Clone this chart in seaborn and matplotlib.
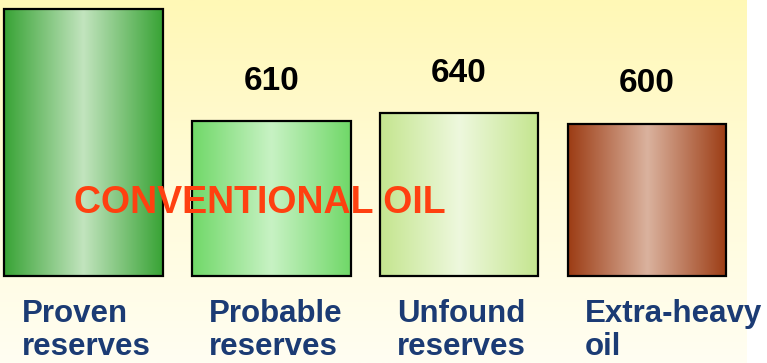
import numpy as np
import matplotlib
matplotlib.use('Agg')
import matplotlib.pyplot as plt
import matplotlib.transforms as mtransforms
from matplotlib.colors import LinearSegmentedColormap
import seaborn as sns

categories = ['Proven\nreserves', 'Probable\nreserves', 'Unfound\nreserves', 'Extra-heavy\noil']
values = [1050, 610, 640, 600]
show_value = [False, True, True, True]  # the first label sits above the slide crop
edge_colors = ['#38A335', '#70D868', '#C4E58E', '#9C3C14']
center_colors = ['#C2E4BE', '#C8F2C4', '#EEF8DE', '#DAB29E']
overlay_text = 'CONVENTIONAL OIL'

sns.set_theme(style='white')
plt.rcParams['font.family'] = ['Liberation Sans', 'DejaVu Sans']

fig = plt.figure(figsize=(7.67, 3.63), dpi=100)
fig.patch.set_facecolor('white')
ax = fig.add_axes([0, 0, 1, 1])
ax.set_facecolor('none')

# yellow slide background
bg = np.linspace(0, 1, 256).reshape(-1, 1)
bg_cmap = LinearSegmentedColormap.from_list('bg', ['#FFF8B6', '#FFFBD8', '#FFFEF2'])
ax.imshow(bg, cmap=bg_cmap, aspect='auto', extent=[0, 747 / 767, 0, 1],
          transform=ax.transAxes, zorder=0)

sns.barplot(x=list(range(len(values))), y=values, width=0.845, color='white',
            edgecolor='black', linewidth=1.6, ax=ax, zorder=2)

# cylinder-like shading inside each bar
grad = np.linspace(0, 1, 256).reshape(1, -1)
for patch, ec, cc in zip(ax.patches, edge_colors, center_colors):
    cmap = LinearSegmentedColormap.from_list('bar', [ec, cc, ec])
    x0, y0 = patch.get_x(), patch.get_y()
    w, h = patch.get_width(), patch.get_height()
    im = ax.imshow(grad, cmap=cmap, aspect='auto', extent=[x0, x0 + w, y0, y0 + h], zorder=2)
    im.set_clip_path(patch)
    patch.set_zorder(3)
    patch.set_facecolor('none')

for i, v in enumerate(values):
    if show_value[i]:
        ax.annotate(str(v), (i, v), xytext=(0, 22.5), textcoords='offset points',
                    ha='center', va='baseline', fontsize=24, fontweight='bold', color='black')

trans = mtransforms.blended_transform_factory(ax.transData, ax.transAxes)
for i, c in enumerate(categories):
    ax.text(i - 0.33, 1 - 299 / 363, c, transform=trans, ha='left', va='top',
            fontsize=22.5, fontweight='bold', color='#1B3B74', linespacing=1.15)

ax.text(0.339, 0.44, overlay_text, transform=ax.transAxes, ha='center', va='center',
        fontsize=27, fontweight='bold', color='#FF4010', zorder=5)

ax.set_xlim(-0.445, 3.64)
ax.set_ylim(-342.5, 1086.6)
ax.set_xticks([])
ax.set_yticks([])
ax.set_xlabel('')
ax.set_ylabel('')
sns.despine(ax=ax, left=True, bottom=True)

fig.savefig('out.png', dpi=100)
